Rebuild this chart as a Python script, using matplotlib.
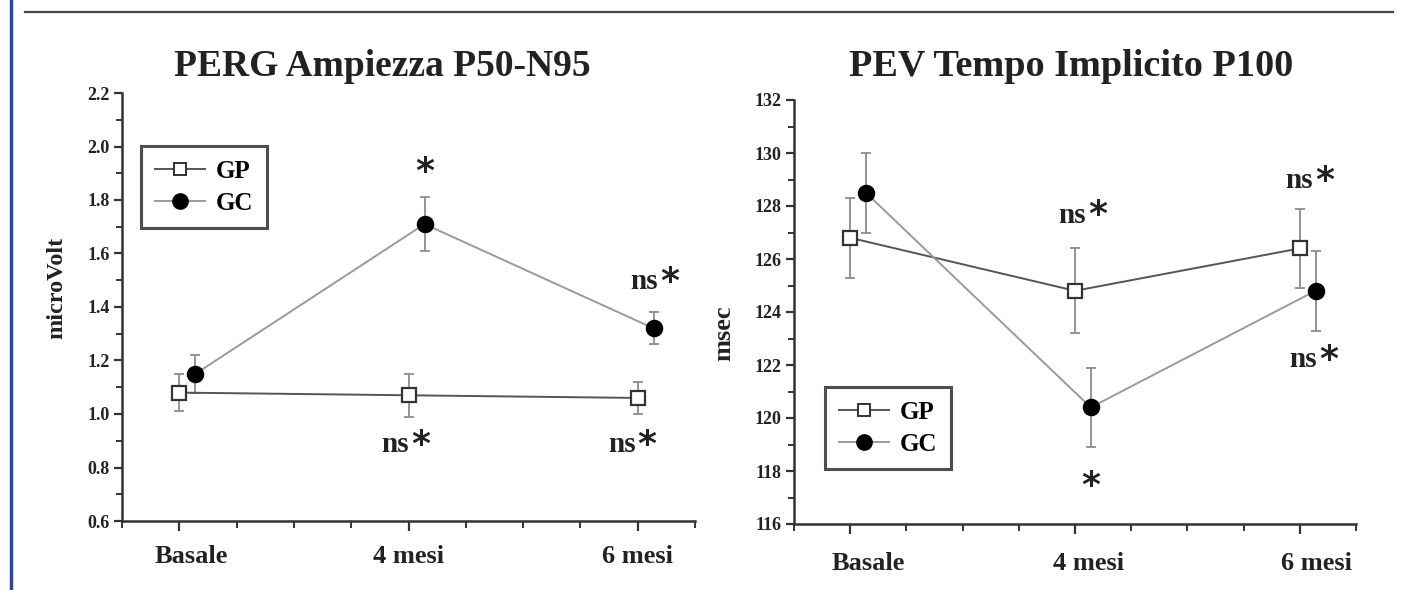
import numpy as np
import matplotlib
matplotlib.use("Agg")
import matplotlib.pyplot as plt
from matplotlib.lines import Line2D
from matplotlib.ticker import MultipleLocator, FormatStrFormatter

plt.rcParams['font.family'] = ['Liberation Serif', 'DejaVu Serif']
plt.rcParams['font.weight'] = 'bold'

# time points
visits = ['Basale', '4 mesi', '6 mesi']
xpos = np.arange(len(visits))
gc_shift = 0.07  # GC points drawn a little to the right

# PERG amplitude P50-N95 (microVolt), mean and error
gp_perg = [1.08, 1.07, 1.06]
gp_perg_err = [0.07, 0.08, 0.06]
gc_perg = [1.15, 1.71, 1.32]
gc_perg_err = [0.07, 0.10, 0.06]

# PEV implicit time P100 (msec)
gp_pev = [126.8, 124.8, 126.4]
gp_pev_err = [1.5, 1.6, 1.5]
gc_pev = [128.5, 120.4, 124.8]
gc_pev_err = [1.5, 1.5, 1.5]

axis_col = '#333333'
text_col = '#222222'
gp_col = '#555555'
gc_col = '#9a9a9a'
err_col = '#8c8c8c'


def draw_series(ax, x, y, err, line_col, marker, face, msize):
    ax.errorbar(x, y, yerr=err, fmt='none', ecolor=err_col, elinewidth=1.3,
                capsize=3.5, capthick=1.3, zorder=2)
    ax.plot(x, y, color=line_col, lw=1.4, zorder=3)
    ax.plot(x, y, ls='none', marker=marker, ms=msize, mfc=face,
            mec='#333333' if face == 'white' else 'black', mew=1.6, zorder=4)


def style_axes(ax, ymin, ymax, ymaj, ymin_step, fmt, drop, label_shift):
    ax.set_xlim(-0.25, 2.25)
    ax.set_ylim(ymin, ymax)
    for s in ['top', 'right']:
        ax.spines[s].set_visible(False)
    for s in ['left', 'bottom']:
        ax.spines[s].set_color(axis_col)
        ax.spines[s].set_linewidth(1.8)
    ax.set_xticks(xpos)
    ax.set_xticks([-0.25, 0.25, 0.5, 0.75, 1.25, 1.5, 1.75, 2.25], minor=True)
    ax.set_xticklabels([])
    # category names sit a little right of their ticks
    for x, name, dx in zip(xpos, visits, label_shift):
        ax.annotate(name, xy=(x, 0), xycoords=('data', 'axes fraction'),
                    xytext=(dx, -drop), textcoords='offset points',
                    ha='center', va='top', fontsize=19, fontweight='bold',
                    color=text_col, annotation_clip=False)
    ax.yaxis.set_major_locator(MultipleLocator(ymaj))
    ax.yaxis.set_minor_locator(MultipleLocator(ymin_step))
    ax.yaxis.set_major_formatter(FormatStrFormatter(fmt))
    ax.tick_params(axis='x', which='major', direction='out', length=7, width=1.6,
                   color=axis_col)
    ax.tick_params(axis='x', which='minor', direction='out', length=5, width=1.4,
                   color=axis_col)
    ax.tick_params(axis='y', which='major', direction='out', length=6, width=1.6,
                   color=axis_col, labelsize=13, pad=3)
    ax.tick_params(axis='y', which='minor', direction='out', length=4, width=1.4,
                   color=axis_col)
    for t in ax.get_yticklabels():
        t.set_fontweight('bold')
        t.set_color(text_col)


def mark(ax, x, y, ns=True):
    if ns:
        ax.text(x, y, 'ns', ha='right', va='center', fontsize=21,
                fontweight='bold', color=text_col)
    ax.text(x + (0.01 if ns else 0), y, '*', ha='left' if ns else 'center',
            va='center', fontsize=26, family='DejaVu Sans', color=text_col)


def legend(ax, anchor):
    handles = [
        Line2D([], [], color=gp_col, lw=1.4, marker='s', ms=9, mfc='white',
               mec='#333333', mew=1.4),
        Line2D([], [], color=gc_col, lw=1.4, marker='o', ms=11, mfc='black',
               mec='black'),
    ]
    leg = ax.legend(handles, ['GP', 'GC'], loc='upper left', bbox_to_anchor=anchor,
                    borderaxespad=0, frameon=True, fancybox=False, handlelength=2.0,
                    handletextpad=0.45, borderpad=0.55, labelspacing=0.35,
                    prop={'size': 18, 'weight': 'bold'})
    fr = leg.get_frame()
    fr.set_edgecolor(text_col)
    fr.set_linewidth(2.2)


fig = plt.figure(figsize=(14.01, 5.90), dpi=100)

# frame decorations
fig.add_artist(Line2D([11 / 1401, 11 / 1401], [0, 1], color='#2b46a3', lw=2.5))
fig.add_artist(Line2D([25 / 1401, 1393 / 1401], [1 - 12 / 590, 1 - 12 / 590],
                      color='#444444', lw=1.6))

# left panel: PERG
ax1 = fig.add_axes([122 / 1401, 1 - 521 / 590, 573 / 1401, 428 / 590])
draw_series(ax1, xpos, gp_perg, gp_perg_err, gp_col, 's', 'white', 10)
draw_series(ax1, xpos + gc_shift, gc_perg, gc_perg_err, gc_col, 'o', 'black', 11)
style_axes(ax1, 0.6, 2.2, 0.2, 0.1, '%.1f', 17, [8.5, 0, 0])
legend(ax1, (0.033, 0.876))
mark(ax1, 1 + gc_shift, 1.905, ns=False)
mark(ax1, 2.09, 1.495)
mark(ax1, 1.0, 0.885)
mark(ax1, 1.99, 0.885)
fig.text(382 / 1401, 1 - 76 / 590, 'PERG Ampiezza P50-N95', ha='center',
         va='baseline', fontsize=27, fontweight='bold', color=text_col)
fig.text(57 / 1401, 1 - 288 / 590, 'microVolt', ha='center', va='center',
         rotation=90, fontsize=17.5, fontweight='bold', color=text_col)

# right panel: PEV
ax2 = fig.add_axes([794 / 1401, 1 - 524 / 590, 562 / 1401, 424 / 590])
draw_series(ax2, xpos, gp_pev, gp_pev_err, gp_col, 's', 'white', 10)
draw_series(ax2, xpos + gc_shift, gc_pev, gc_pev_err, gc_col, 'o', 'black', 11)
style_axes(ax2, 116, 132, 2, 1, '%d', 20, [13, 9.5, 12])
legend(ax2, (0.055, 0.323))
mark(ax2, 1.05, 127.65)
mark(ax2, 2.06, 128.95)
mark(ax2, 2.075, 122.2)
mark(ax2, 1 + gc_shift, 117.45, ns=False)
fig.text(1071 / 1401, 1 - 76 / 590, 'PEV Tempo Implicito P100', ha='center',
         va='baseline', fontsize=27.5, fontweight='bold', color=text_col)
fig.text(724 / 1401, 1 - 333 / 590, 'msec', ha='center', va='center',
         rotation=90, fontsize=19, fontweight='bold', color=text_col)

fig.savefig('out.png', dpi=100, facecolor='white')
